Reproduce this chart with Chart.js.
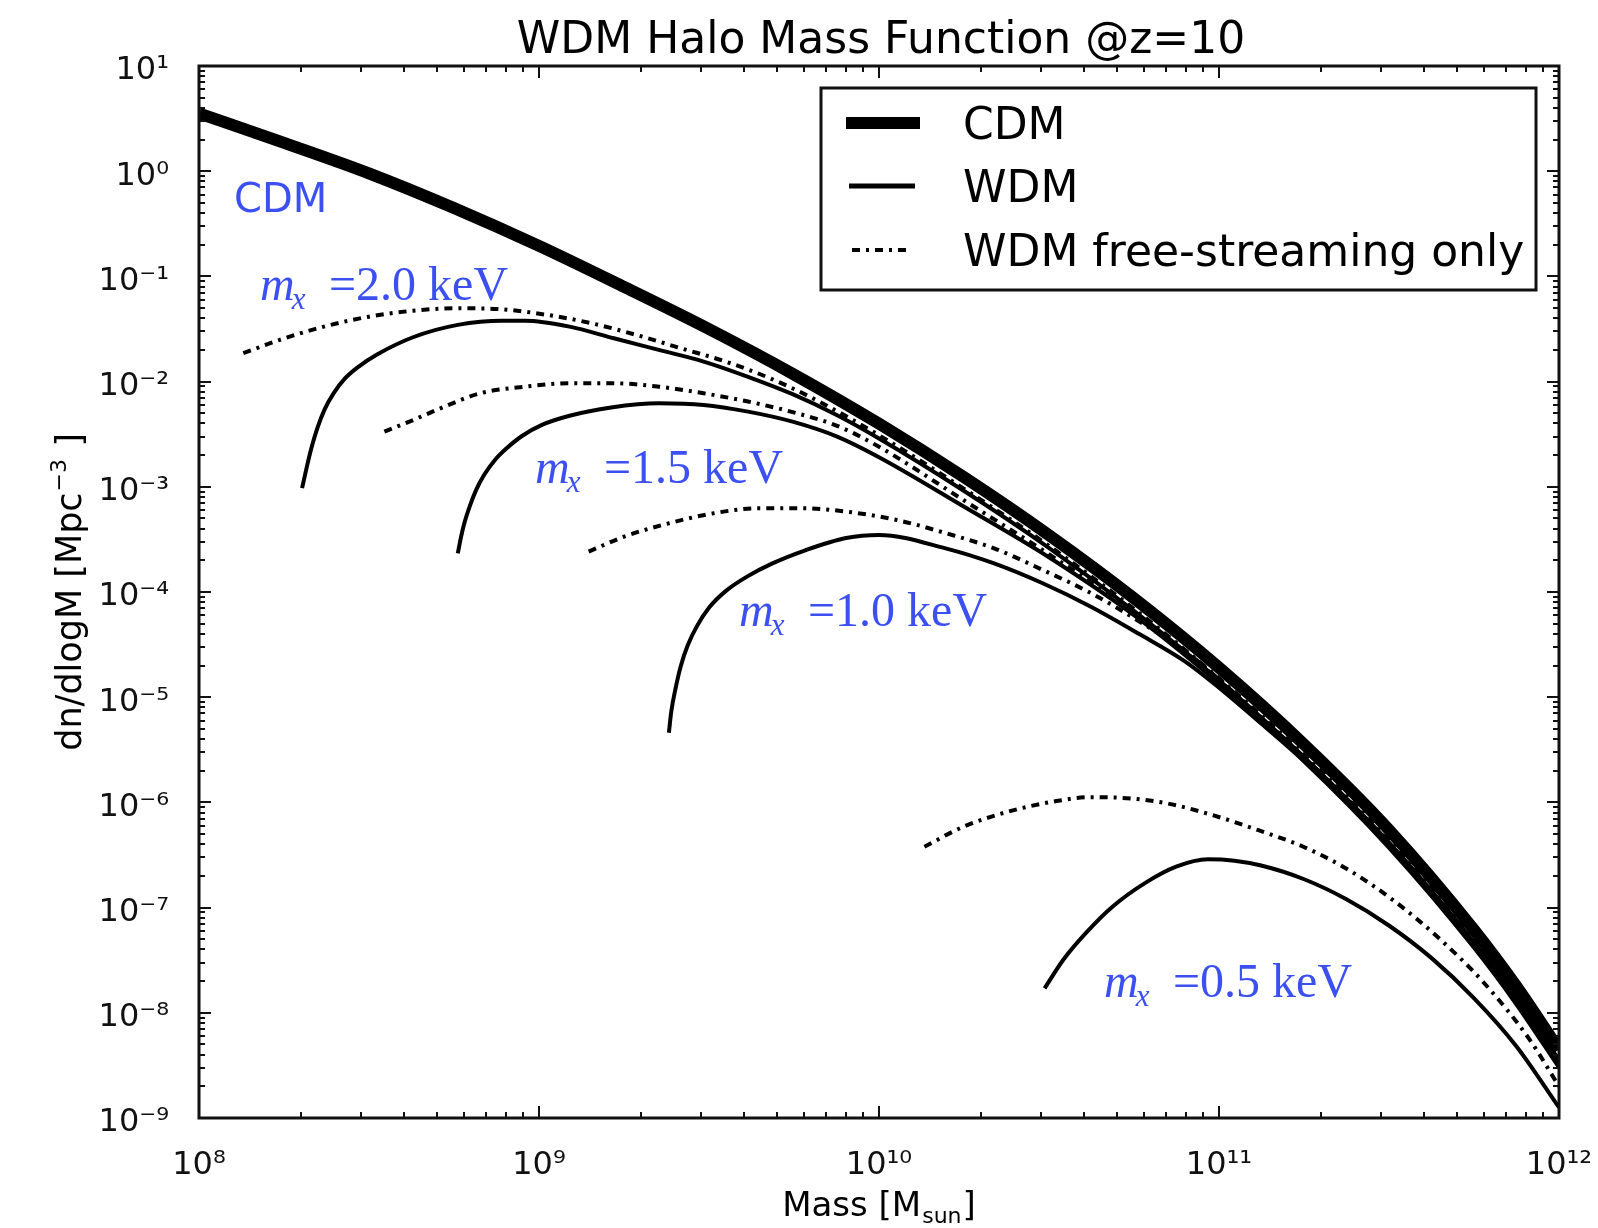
<!DOCTYPE html>
<html>
<head>
<meta charset="utf-8">
<script src="https://cdn.jsdelivr.net/npm/chart.js@4.4.1/dist/chart.umd.min.js"></script>
<style>
html,body{margin:0;padding:0;background:#fff;}
#wrap{width:1598px;height:1228px;position:relative;}
canvas{display:block;}
</style>
</head>
<body>
<div id="wrap"><canvas id="c" width="1598" height="1228"></canvas></div>
<script>
// ---------------- text ----------------
const chartTitle = "WDM Halo Mass Function @z=10";
const xAxisTitle = ["Mass [M", "sun", "]"];
const yAxisTitle = ["dn/dlogM [Mpc", "\u22123", " ]"];
const legendLabels = ["CDM", "WDM", "WDM free-streaming only"];
const cdmNote = "CDM";
const mxValues = ["2.0", "1.5", "1.0", "0.5"];

// ---------------- ticks ----------------
const xTickValues = [1e8, 1e9, 1e10, 1e11, 1e12];
const xTickLabels = ["10\u2078", "10\u2079", "10\u00b9\u2070", "10\u00b9\u00b9", "10\u00b9\u00b2"];
const yTickValues = [1e-9, 1e-8, 1e-7, 1e-6, 1e-5, 1e-4, 1e-3, 1e-2, 1e-1, 1e0, 1e1];
const yTickLabels = ["10\u207b\u2079", "10\u207b\u2078", "10\u207b\u2077", "10\u207b\u2076", "10\u207b\u2075",
                     "10\u207b\u2074", "10\u207b\u00b3", "10\u207b\u00b2", "10\u207b\u00b9", "10\u2070", "10\u00b9"];

// ---------------- data: mass [Msun] and dn/dlogM [Mpc^-3] ----------------
const cdmMass = [1e8, 1.78e8, 3.16e8, 5.62e8, 1e9, 1.78e9, 3.16e9, 5.62e9, 1e10, 1.78e10, 3.16e10, 5.62e10, 1e11, 1.78e11, 3.16e11, 5.62e11, 7.50e11, 1e12];
const cdmN    = [3.55, 1.86, 0.955, 0.447, 0.195, 0.0794, 0.0316, 0.0117, 3.98e-3, 1.23e-3, 3.47e-4, 8.71e-5, 1.91e-5, 3.55e-6, 5.50e-7, 6.17e-8, 1.78e-8, 4.47e-9];

const m20Mass = [2.01e8, 2.07e8, 2.14e8, 2.23e8, 2.34e8, 2.49e8, 2.68e8, 2.95e8, 3.34e8, 4.26e8, 5.77e8, 7.82e8, 9.08e8, 1.23e9, 1.66e9, 2.25e9, 3.05e9, 4.12e9, 5.57e9, 7.53e9, 1e10, 1.78e10, 3.16e10, 5.62e10, 1e11, 1.78e11, 3.16e11, 5.62e11, 7.50e11, 1e12];
const m20N    = [9.7e-4, 1.49e-3, 2.32e-3, 3.63e-3, 5.42e-3, 7.76e-3, 0.0106, 0.0139, 0.0181, 0.0264, 0.0346, 0.0379, 0.0379, 0.0333, 0.0258, 0.0200, 0.0155, 0.0111, 7.59e-3, 4.79e-3, 2.88e-3, 9.12e-4, 2.63e-4, 6.61e-5, 1.45e-5, 2.69e-6, 4.17e-7, 4.68e-8, 1.35e-8, 3.39e-9];
const m20FsMass = [1.35e8, 1.72e8, 2.33e8, 3.16e8, 4.27e8, 5.77e8, 7.82e8, 1.06e9, 1.43e9, 1.94e9, 2.62e9, 3.54e9, 4.80e9, 6.49e9, 1e10, 1.78e10, 3.16e10, 5.62e10, 1e11, 1.78e11, 3.16e11, 5.62e11, 7.50e11, 1e12];
const m20FsN    = [0.0186, 0.0248, 0.0333, 0.0414, 0.0472, 0.0498, 0.0486, 0.0430, 0.0358, 0.0277, 0.0207, 0.0155, 0.0107, 6.76e-3, 3.09e-3, 9.55e-4, 2.75e-4, 6.92e-5, 1.51e-5, 2.82e-6, 4.37e-7, 4.90e-8, 1.41e-8, 3.55e-9];

const m15Mass = [5.77e8, 5.89e8, 6.05e8, 6.27e8, 6.53e8, 6.90e8, 7.40e8, 8.03e8, 8.91e8, 1.02e9, 1.23e9, 1.63e9, 2.25e9, 3.05e9, 4.12e9, 5.57e9, 7.53e9, 1e10, 1.78e10, 3.16e10, 5.62e10, 1e11, 1.78e11, 3.16e11, 5.62e11, 7.50e11, 1e12];
const m15N    = [2.33e-4, 3.27e-4, 4.67e-4, 6.67e-4, 9.31e-4, 1.30e-3, 1.78e-3, 2.32e-3, 3.04e-3, 3.88e-3, 4.74e-3, 5.68e-3, 6.22e-3, 6.00e-3, 5.18e-3, 4.16e-3, 3.00e-3, 1.91e-3, 6.46e-4, 2.14e-4, 6.03e-5, 1.35e-5, 2.51e-6, 3.89e-7, 4.37e-8, 1.26e-8, 3.16e-9];
const m15FsMass = [3.51e8, 4.27e8, 5.27e8, 6.71e8, 9.08e8, 1.23e9, 1.66e9, 2.25e9, 3.05e9, 4.12e9, 5.57e9, 7.53e9, 1e10, 1.78e10, 3.16e10, 5.62e10, 1e11, 1.78e11, 3.16e11, 5.62e11, 7.50e11, 1e12];
const m15FsN    = [3.34e-3, 4.32e-3, 5.78e-3, 7.74e-3, 8.95e-3, 9.64e-3, 9.64e-3, 8.95e-3, 7.74e-3, 6.46e-3, 5.13e-3, 3.80e-3, 2.40e-3, 7.41e-4, 2.29e-4, 6.46e-5, 1.45e-5, 2.69e-6, 4.17e-7, 4.68e-8, 1.35e-8, 3.39e-9];

const m10Mass = [2.41e9, 2.45e9, 2.52e9, 2.61e9, 2.74e9, 2.92e9, 3.17e9, 3.54e9, 4.09e9, 4.86e9, 6.07e9, 8.00e9, 1e10, 1.57e10, 2.18e10, 3.03e10, 4.20e10, 5.83e10, 7.94e10, 1e11, 1.33e11, 1.78e11, 3.16e11, 5.62e11, 7.50e11, 1e12];
const m10N    = [4.60e-6, 7.34e-6, 1.20e-5, 1.96e-5, 3.13e-5, 4.79e-5, 7.16e-5, 1.02e-4, 1.40e-4, 1.87e-4, 2.49e-4, 3.26e-4, 3.49e-4, 2.60e-4, 1.87e-4, 1.21e-4, 7.24e-5, 3.98e-5, 2.19e-5, 1.23e-5, 5.62e-6, 2.45e-6, 3.72e-7, 4.17e-8, 1.20e-8, 3.02e-9];
const m10FsMass = [1.40e9, 1.78e9, 2.41e9, 3.26e9, 4.41e9, 5.97e9, 8.07e9, 1.13e10, 1.57e10, 2.18e10, 3.03e10, 4.20e10, 5.83e10, 7.94e10, 1e11, 1.33e11, 1.78e11, 3.16e11, 5.62e11, 7.50e11, 1e12];
const m10FsN    = [2.42e-4, 3.36e-4, 4.50e-4, 5.60e-4, 6.24e-4, 6.24e-4, 5.79e-4, 4.83e-4, 3.63e-4, 2.60e-4, 1.62e-4, 9.77e-5, 5.25e-5, 2.75e-5, 1.48e-5, 6.31e-6, 2.69e-6, 4.07e-7, 4.57e-8, 1.32e-8, 3.31e-9];

const m05Mass = [3.07e10, 3.48e10, 4.05e10, 4.86e10, 6.04e10, 7.48e10, 9.27e10, 1.11e11, 1.33e11, 1.78e11, 2.37e11, 3.16e11, 4.22e11, 5.62e11, 7.50e11, 1e12];
const m05N    = [1.71e-8, 3.18e-8, 5.69e-8, 1.02e-7, 1.70e-7, 2.45e-7, 2.88e-7, 2.79e-7, 2.51e-7, 1.86e-7, 1.20e-7, 6.76e-8, 3.31e-8, 1.38e-8, 4.79e-9, 1.26e-9];
const m05FsMass = [1.36e10, 1.77e10, 2.40e10, 3.27e10, 4.18e10, 5.51e10, 7.03e10, 9.55e10, 1.30e11, 1.77e11, 2.40e11, 3.26e11, 4.43e11, 6.03e11, 8.18e11, 1e12];
const m05FsN    = [3.79e-7, 5.87e-7, 8.17e-7, 1.02e-6, 1.12e-6, 1.09e-6, 9.79e-7, 7.59e-7, 5.47e-7, 3.79e-7, 2.29e-7, 1.17e-7, 5.13e-8, 1.91e-8, 5.62e-9, 2.00e-9];

// ---------------- helpers / styles ----------------
function pts(ms, ns) { return ms.map((m, i) => ({ x: m, y: ns[i] })); }
function labelFor(v, vals, labels) {
  for (let i = 0; i < vals.length; i++) {
    if (Math.abs(Math.log10(v) - Math.log10(vals[i])) < 1e-6) return labels[i];
  }
  return "";
}
const INK = "#111";
const BLUE = "#3c50f2";
const DASH = [8, 6, 3, 6];
const base = { borderColor: "#000", pointRadius: 0, pointHoverRadius: 0, fill: false,
               cubicInterpolationMode: "monotone", clip: 0, borderCapStyle: "butt", borderJoinStyle: "round" };
function solid(label, d) { return Object.assign({ label, data: d, borderWidth: 4 }, base); }
function dotted(label, d) { return Object.assign({ label, data: d, borderWidth: 4, borderDash: DASH }, base); }

const datasets = [
  dotted("WDM fs 2.0", pts(m20FsMass, m20FsN)),
  dotted("WDM fs 1.5", pts(m15FsMass, m15FsN)),
  dotted("WDM fs 1.0", pts(m10FsMass, m10FsN)),
  dotted("WDM fs 0.5", pts(m05FsMass, m05FsN)),
  solid("WDM 2.0", pts(m20Mass, m20N)),
  solid("WDM 1.5", pts(m15Mass, m15N)),
  solid("WDM 1.0", pts(m10Mass, m10N)),
  solid("WDM 0.5", pts(m05Mass, m05N)),
  Object.assign({ label: "CDM", data: pts(cdmMass, cdmN), borderWidth: 12 }, base)
];

// ---------------- plugins ----------------
const bgPlugin = {
  id: "bg",
  beforeDraw(chart) {
    const c = chart.ctx; c.save(); c.fillStyle = "#fff";
    c.fillRect(0, 0, chart.width, chart.height); c.restore();
  }
};

const framePlugin = {
  id: "frame",
  afterDraw(chart) {
    const c = chart.ctx, ca = chart.chartArea, xs = chart.scales.x, ys = chart.scales.y;
    c.save();
    c.strokeStyle = INK;
    c.lineWidth = 2;
    const seg = (x1, y1, x2, y2) => { c.beginPath(); c.moveTo(x1, y1); c.lineTo(x2, y2); c.stroke(); };
    for (let e = 8; e <= 12; e++) {
      for (let k = 1; k <= 9; k++) {
        if (e === 12 && k > 1) break;
        const px = Math.round(xs.getPixelForValue(k * Math.pow(10, e)));
        const len = k === 1 ? 12 : 6;
        seg(px, ca.bottom, px, ca.bottom - len);
        seg(px, ca.top, px, ca.top + len);
      }
    }
    for (let e = -9; e <= 1; e++) {
      for (let k = 1; k <= 9; k++) {
        if (e === 1 && k > 1) break;
        const py = Math.round(ys.getPixelForValue(k * Math.pow(10, e)));
        const len = k === 1 ? 12 : 6;
        seg(ca.left, py, ca.left + len, py);
        seg(ca.right, py, ca.right - len, py);
      }
    }
    c.lineWidth = 3;
    c.strokeRect(ca.left, ca.top, ca.right - ca.left, ca.bottom - ca.top);
    c.restore();
  }
};

const textPlugin = {
  id: "texts",
  afterDraw(chart) {
    const c = chart.ctx, ca = chart.chartArea;
    c.save();
    c.fillStyle = "#000";
    c.textBaseline = "alphabetic";
    c.font = '44px "DejaVu Sans"';
    c.textAlign = "center";
    c.fillText(chartTitle, 881, 53);
    c.textAlign = "left";

    const mainF = '34px "DejaVu Sans"', subF = '22px "DejaVu Sans"';
    c.font = mainF; const w0 = c.measureText(xAxisTitle[0]).width;
    c.font = subF; const w1 = c.measureText(xAxisTitle[1]).width;
    c.font = mainF; const w2 = c.measureText(xAxisTitle[2]).width;
    const sx = (ca.left + ca.right) / 2 - (w0 + w1 + w2 + 2) / 2;
    const xb = 1216;
    c.font = mainF; c.fillText(xAxisTitle[0], sx, xb);
    c.font = subF; c.fillText(xAxisTitle[1], sx + w0 + 1, xb + 7);
    c.font = mainF; c.fillText(xAxisTitle[2], sx + w0 + w1 + 2, xb);

    c.save();
    c.translate(81, (ca.top + ca.bottom) / 2);
    c.rotate(-Math.PI / 2);
    const ym = '35px "DejaVu Sans"', ysF = '22px "DejaVu Sans"';
    c.font = ym; const v0 = c.measureText(yAxisTitle[0]).width;
    c.font = ysF; const v1 = c.measureText(yAxisTitle[1]).width;
    c.font = ym; const v2 = c.measureText(yAxisTitle[2]).width;
    const sy = -(v0 + v1 + v2 + 2) / 2;
    c.font = ym; c.fillText(yAxisTitle[0], sy, 0);
    c.font = ysF; c.fillText(yAxisTitle[1], sy + v0 + 1, -15);
    c.font = ym; c.fillText(yAxisTitle[2], sy + v0 + v1 + 2, 0);
    c.restore();

    c.fillStyle = BLUE;
    c.font = '40px "DejaVu Sans"';
    c.fillText(cdmNote, 234, 212);
    const mxPos = [[260, 300], [535, 483], [739, 626], [1104, 997]];
    mxValues.forEach((val, i) => {
      const [x, b] = mxPos[i];
      c.font = 'italic 48px "Liberation Serif"';
      c.fillText("m", x, b);
      const mw = c.measureText("m").width;
      c.font = 'italic 31px "Liberation Serif"';
      c.fillText("x", x + mw - 3, b + 9);
      c.font = '48px "Liberation Serif"';
      c.fillText("=" + val + " keV", x + 69, b);
    });

    c.fillStyle = "#fff";
    c.fillRect(821, 88, 715, 202);
    c.strokeStyle = INK; c.lineWidth = 3;
    c.strokeRect(821, 88, 715, 202);
    c.strokeStyle = "#000";
    c.lineCap = "butt";
    c.lineWidth = 12; c.beginPath(); c.moveTo(846, 123); c.lineTo(920, 123); c.stroke();
    c.lineWidth = 5;  c.beginPath(); c.moveTo(849, 186); c.lineTo(915, 186); c.stroke();
    c.lineWidth = 4;  c.setLineDash(DASH); c.beginPath(); c.moveTo(852, 250); c.lineTo(912, 250); c.stroke();
    c.setLineDash([]);
    c.fillStyle = "#000";
    c.font = '44px "DejaVu Sans"';
    const lb = [139, 202, 266];
    legendLabels.forEach((t, i) => c.fillText(t, 963, lb[i]));
    c.restore();
  }
};

// ---------------- chart ----------------
new Chart(document.getElementById("c"), {
  type: "line",
  data: { datasets },
  options: {
    responsive: false,
    animation: false,
    devicePixelRatio: 1,
    layout: { padding: { left: 0, top: 66, right: 39, bottom: 0 } },
    plugins: { legend: { display: false }, title: { display: false }, tooltip: { enabled: false } },
    elements: { line: { tension: 0 } },
    scales: {
      x: {
        type: "logarithmic", min: 1e8, max: 1e12,
        grid: { display: false }, border: { display: false },
        afterBuildTicks: (s) => { s.ticks = xTickValues.map(v => ({ value: v })); },
        afterFit: (s) => { s.height = 110; s.paddingLeft = 0; s.paddingRight = 0; },
        ticks: {
          autoSkip: false, maxRotation: 0, minRotation: 0, padding: 20, color: INK,
          font: { family: "DejaVu Sans", size: 32 },
          callback: (v) => labelFor(v, xTickValues, xTickLabels)
        }
      },
      y: {
        type: "logarithmic", min: 1e-9, max: 1e1,
        grid: { display: false }, border: { display: false },
        afterBuildTicks: (s) => { s.ticks = yTickValues.map(v => ({ value: v })); },
        afterFit: (s) => { s.width = 199; s.paddingTop = 0; s.paddingBottom = 0; },
        ticks: {
          autoSkip: false, padding: 22, labelOffset: 5, color: INK,
          font: { family: "DejaVu Sans", size: 32 },
          callback: (v) => labelFor(v, yTickValues, yTickLabels)
        }
      }
    }
  },
  plugins: [bgPlugin, framePlugin, textPlugin]
});
</script>
</body>
</html>
